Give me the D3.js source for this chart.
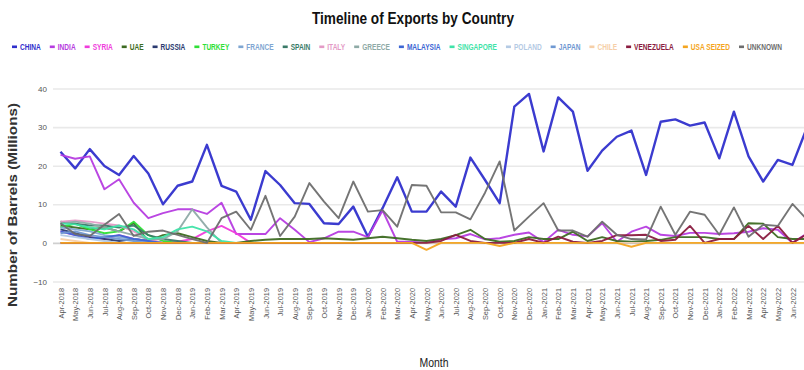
<!DOCTYPE html>
<html><head><meta charset="utf-8">
<script src="https://cdn.jsdelivr.net/npm/d3@7"></script>
<style>html,body{margin:0;padding:0;background:#fff;overflow:hidden}</style>
</head><body>
<svg id="c" width="804" height="370"></svg>
<script>
const months = ["Apr-2018","May-2018","Jun-2018","Jul-2018","Aug-2018","Sep-2018","Oct-2018","Nov-2018","Dec-2018",
"Jan-2019","Feb-2019","Mar-2019","Apr-2019","May-2019","Jun-2019","Jul-2019","Aug-2019","Sep-2019","Oct-2019","Nov-2019","Dec-2019",
"Jan-2020","Feb-2020","Mar-2020","Apr-2020","May-2020","Jun-2020","Jul-2020","Aug-2020","Sep-2020","Oct-2020","Nov-2020","Dec-2020",
"Jan-2021","Feb-2021","Mar-2021","Apr-2021","May-2021","Jun-2021","Jul-2021","Aug-2021","Sep-2021","Oct-2021","Nov-2021","Dec-2021",
"Jan-2022","Feb-2022","Mar-2022","Apr-2022","May-2022","Jun-2022","Jul-2022"];
const yTicks = [-10, 0, 10, 20, 30, 40];

const seriesNames = ["CHINA","INDIA","SYRIA","UAE","RUSSIA","TURKEY","FRANCE","SPAIN","ITALY","GREECE","MALAYSIA","SINGAPORE","POLAND","JAPAN","CHILE","VENEZUELA","USA SEIZED","UNKNOWN"];
const seriesColors = ["#3030cc","#b63ce0","#f03cdc","#3d6b22","#2a3a70","#2fdf36","#7fa6d2","#3a7a68","#e49ac6","#8eaaa6","#3d66d4","#3fe3a8","#b4cae4","#6f98d2","#f6cfa8","#8a1c40","#f4a520","#6e6e6e"];

const CHINA = [23.6,19.3,24.3,19.9,17.6,22.5,18.0,10.0,14.8,15.9,25.4,14.8,13.3,6.0,18.6,15.0,10.3,10.1,5.1,4.9,9.4,1.6,9.0,17.0,8.1,8.1,13.3,9.4,22.1,16.3,10.3,35.3,38.6,23.7,37.7,34.0,18.7,23.9,27.5,29.1,17.6,31.4,32.0,30.4,31.2,21.9,34.0,22.4,15.9,21.5,20.2,30.0];
const INDIA = [22.8,21.8,22.4,13.9,16.5,10.4,6.4,7.7,8.7,8.7,7.5,10.4,2.3,2.3,2.3,6.4,3.4,0.2,1.2,2.9,2.9,1.5,8.4,0.3,0.3,0.0,0.9,1.2,2.3,0.9,1.2,2.1,2.7,0.2,3.4,2.1,1.7,5.1,0.3,2.9,4.2,2.1,1.8,2.6,2.6,2.3,2.5,2.9,3.8,3.4,0.0,2.5];
const SYRIA = [3.0,2.0,1.5,1.0,2.0,1.0,0.5,0.0,0.3,1.0,3.0,4.4,2.5,0,0,0,0,0,0,0,0,0,0,0,0,0,0,0,0,0,0,0,0,0,0,0,0,0,0,0,0,0,0,0,0,0,0,0,0,0,0,0];
const UAE = [4.5,4.0,3.5,4.0,3.0,5.1,0.5,2.0,2.5,1.5,0.5,0.0,0.0,0.5,0.8,1.0,1.0,1.0,1.2,1.0,0.8,1.2,1.6,1.2,0.8,0.5,1.0,2.0,3.4,1.0,0.3,0.5,1.5,1.0,1.0,2.9,0.5,1.5,0.5,0.3,0.5,0.8,1.5,1.5,1.5,1.0,1.0,5.1,5.0,1.5,1.0,1.0];
const RUSSIA = [3.5,2.5,1.5,1.0,0.5,1.0,0.5,0,0,0,0,0,0,0,0,0,0,0,0,0,0,0,0,0,0,0,0,0,0,0,0,0,0,0,0,0,0,0,0,0,0,0,0,0,0,0,0,0,0,0,0,0];
const TURKEY = [4.0,5.0,3.5,2.5,3.0,5.5,2.0,0.5,0,0,0,0,0,0,0,0,0,0,0,0,0,0,0,0,0,0,0,0,0,0,0,0,0,0,0,0,0,0,0,0,0,0,0,0,0,0,0,0,0,0,0,0];
const FRANCE = [4.0,3.5,3.0,2.0,1.5,1.0,0.5,0,0,0,0,0,0,0,0,0,0,0,0,0,0,0,0,0,0,0,0,0,0,0,0,0,0,0,0,0,0,0,0,0,0,0,0,0,0,0,0,0,0,0,0,0];
const SPAIN = [5.5,5.0,4.5,4.5,4.0,4.5,2.0,1.0,0.5,0,0,0,0,0,0,0,0,0,0,0,0,0,0,0,0,0,0,0,0,0,0,0,0,0,0,0,0,0,0,0,0,0,0,0,0,0,0,0,0,0,0,0];
const ITALY = [5.5,5.8,5.5,5.0,4.5,3.0,1.0,0,0,0,0,0,0,0,0,0,0,0,0,0,0,0,0,0,0,0,0,0,0,0,0,0,0,0,0,0,0,0,0,0,0,0,0,0,0,0,0,0,0,0,0,0];
const GREECE = [5.0,5.5,5.0,4.0,3.0,2.0,1.0,1.0,3.0,8.7,4.0,0,0,0,0,0,0,0,0,0,0,0,0,0,0,0,0,0,0,0,0,0,0,0,0,0,0,0,0,0,0,0,0,0,0,0,0,0,0,0,0,0];
const MALAYSIA = [3.0,2.0,1.0,1.5,2.0,1.0,0.5,0,0,0,0,0,0,0,0,0,0,0,0,0,0,0,0,0,0,0,0,0,0,0,0,0,0,0,0,0,0,0,0,0,0,0,0,0,0,0,0,0,0,0,0,0];
const SINGAPORE = [5.0,4.8,4.0,3.5,4.5,3.5,1.0,1.5,3.5,4.2,3.0,0.5,0,0,0,0,0,0,0,0,0,0,0,0,0,0,0,0,0,0,0,0,0,0,0,0,0,0,0,0,0,0,0,0,0,0,0,0,0,0,0,0];
const POLAND = [2.0,1.5,1.0,0.5,0,0,0,0,0,0,0,0,0,0,0,0,0,0,0,0,0,0,0,0,0,0,0,0,0,0,0,0,0,0,0,0,0,0,0,0,0,0,0,0,0,0,0,0,0,0,0,0];
const JAPAN = [2.5,3.0,2.0,1.5,1.0,0.5,0,0,0,0,0,0,0,0,0,0,0,0,0,0,0,0,0,0,0,0,0,0,0,0,0,0,0,0,0,0,0,0,0,0,0,0,0,0,0,0,0,0,0,0,0,0];
const CHILE = [1.0,0.5,0,0,0,0,0,0,0,0,0,0,0,0,0,0,0,0,0,0,0,0,0,0,0,0,0,0,0,0,0,0,0,0,0,0,0,0,0,0,0,0,0,0,0,0,0,0,0,0,0,0];
const VENEZUELA = [0,0,0,0,0,0,0,0,0,0,0,0,0,0,0,0,0,0,0,0,0,0,0,0,0,0,0.5,2.1,0.5,0,0,0,1.0,0,1.6,0.3,0,0.5,2.0,2.0,2.1,0.5,0.8,4.4,0,1.0,1.0,4.4,1.0,4.4,0,2.3];
const USA_SEIZED = [0,0,0,0,0,0,0,0,0,0,0,0,0,0,0,0,0,0,0,0,0,0,0,0,0,-1.8,0,0,0,0,-0.8,0,0,0,0,0,0,0,0,-1.0,0,0,0,0,0,0,0,0,0,0,0,0];
const UNKNOWN = [5.1,2.3,1.8,4.7,7.5,1.8,2.9,3.2,2.1,1.0,0.0,6.4,8.1,3.4,12.2,1.8,6.8,15.5,10.7,6.4,15.9,8.1,8.5,4.2,15.0,14.8,7.9,7.9,6.1,13.0,21.1,3.2,6.8,10.3,3.2,3.2,1.6,5.5,2.1,1.0,0.9,9.4,2.1,8.1,7.3,2.1,9.2,1.6,4.7,4.4,10.1,6.0];

const seriesValues = [CHINA,INDIA,SYRIA,UAE,RUSSIA,TURKEY,FRANCE,SPAIN,ITALY,GREECE,MALAYSIA,SINGAPORE,POLAND,JAPAN,CHILE,VENEZUELA,USA_SEIZED,UNKNOWN];

const FONT = "'Liberation Sans', Arial, Helvetica, sans-serif";
const svg = d3.select("#c");
svg.append("rect").attr("width",804).attr("height",370).attr("fill","#fff");

const plotLeft = 53, plotRight = 815;
const x = d3.scalePoint().domain(months).range([60.5, 807.1]);
const y = d3.scaleLinear().domain([-10, 40]).range([281.5, 88.5]);

// y grid + labels
const yAxis = svg.append("g").attr("transform", `translate(${plotLeft},0)`)
  .call(d3.axisLeft(y).tickValues(yTicks).tickSize(-(plotRight - plotLeft)).tickPadding(6).tickFormat(d3.format("d")));
yAxis.select(".domain").remove();
yAxis.selectAll(".tick line").attr("stroke", d => d === 0 ? "#cfcfcf" : "#e9e9e9").attr("stroke-width", 1.6);
yAxis.selectAll(".tick text").attr("fill","#555").style("font-family",FONT).style("font-size","8px");

// x axis labels (the last month falls past the visible right edge)
const xAxis = svg.append("g").attr("transform","translate(0,284)")
  .call(d3.axisBottom(x).tickSize(0).tickValues(months.filter(m => x(m) < 800)));
xAxis.select(".domain").remove();
xAxis.selectAll(".tick text")
  .attr("transform","rotate(-90)").attr("x",-4).attr("y",0).attr("dy","0.35em")
  .style("text-anchor","end").attr("fill","#555").style("font-family",FONT).style("font-size","7.4px");

// lines
const line = d3.line().x((d,i) => x(months[i])).y(d => y(d));
seriesValues.forEach((vals, k) => {
  svg.append("path").datum(vals).attr("d", line)
    .attr("fill","none").attr("stroke", seriesColors[k])
    .attr("stroke-width", k === 0 ? 2.4 : 1.9)
    .attr("stroke-linejoin","round").attr("stroke-opacity", 0.95);
});

// title
svg.append("text").attr("x",413).attr("y",24).attr("text-anchor","middle")
  .style("font-family",FONT).style("font-weight","bold").style("font-size","16px").attr("fill","#111")
  .attr("textLength",202).attr("lengthAdjust","spacingAndGlyphs")
  .text("Timeline of Exports by Country");

// legend
const lg = svg.append("g");
const tmp = lg.selectAll("text.m").data(seriesNames).enter().append("text")
  .style("font-family",FONT).style("font-weight","bold").style("font-size","8.5px").text(d=>d);
const widths = [];
tmp.each(function(){ widths.push(this.getComputedTextLength()); });
tmp.remove();
const dashW = 5, dashGap = 3, itemGap = 9, legStart = 12, legEnd = 782;
const fixed = seriesNames.length * (dashW + dashGap) + (seriesNames.length - 1) * itemGap;
const kx = (legEnd - legStart - fixed) / d3.sum(widths);
let lx = legStart;
seriesNames.forEach((name, i) => {
  lg.append("rect").attr("x", lx).attr("y", 45.5).attr("width", dashW).attr("height", 2.6).attr("fill", seriesColors[i]);
  const tw = widths[i] * kx;
  lg.append("text").attr("x", lx + dashW + dashGap).attr("y", 50)
    .style("font-family",FONT).style("font-weight","bold").style("font-size","8.5px")
    .attr("fill", seriesColors[i]).attr("textLength", tw).attr("lengthAdjust","spacingAndGlyphs").text(name);
  lx += dashW + dashGap + tw + itemGap;
});

// axis titles
svg.append("text").attr("transform","translate(17,205) rotate(-90)").attr("text-anchor","middle")
  .style("font-family",FONT).style("font-weight","bold").style("font-size","12.5px").attr("fill","#333")
  .attr("textLength",204).attr("lengthAdjust","spacingAndGlyphs")
  .text("Number of Barrels (Millions)");
svg.append("text").attr("x",434).attr("y",367).attr("text-anchor","middle")
  .style("font-family",FONT).style("font-size","13px").attr("fill","#222")
  .attr("textLength",29).attr("lengthAdjust","spacingAndGlyphs").text("Month");
</script>
</body></html>
